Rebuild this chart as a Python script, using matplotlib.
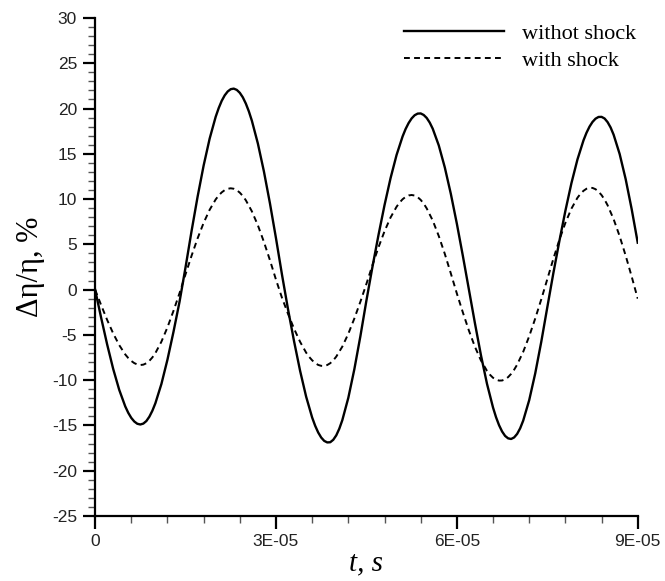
import matplotlib
matplotlib.use("Agg")
import matplotlib.pyplot as plt
from matplotlib.ticker import MultipleLocator, FixedLocator

plt.rcParams["axes.unicode_minus"] = False

# time in units of 1E-05 s
t = [i / 10 for i in range(91)]

without_shock = [
    0.00, -3.10, -6.06, -8.76, -11.07, -12.90, -14.17, -14.82, -14.80, -14.04,
    -12.55, -10.42, -7.74, -4.67, -1.36, 2.46, 6.47, 10.26, 13.70, 16.68,
    19.09, 20.85, 21.89, 22.20, 21.74, 20.55, 18.66, 16.13, 13.05, 9.53,
    5.68, 1.64, -2.18, -5.71, -8.97, -11.82, -14.13, -15.78, -16.71, -16.86,
    -16.10, -14.43, -11.95, -8.79, -5.15, -1.21, 2.51, 6.02, 9.32, 12.30,
    14.87, 16.92, 18.40, 19.26, 19.46, 18.96, 17.77, 15.93, 13.50, 10.58,
    7.28, 3.71, 0.00, -3.72, -7.26, -10.41, -13.03, -14.98, -16.16, -16.50,
    -15.94, -14.48, -12.21, -9.25, -5.77, -1.96, 1.80, 5.35, 8.70, 11.75,
    14.37, 16.48, 18.00, 18.88, 19.08, 18.50, 17.11, 14.98, 12.20, 8.87,
    5.18,
]

with_shock = [
    0.00, -1.71, -3.35, -4.84, -6.13, -7.16, -7.88, -8.27, -8.29, -7.87,
    -7.01, -5.75, -4.17, -2.35, -0.40, 1.69, 3.74, 5.66, 7.37, 8.82,
    9.96, 10.74, 11.14, 11.14, 10.71, 9.87, 8.65, 7.10, 5.27, 3.25,
    1.10, -0.91, -2.68, -4.32, -5.77, -6.96, -7.81, -8.32, -8.43, -8.13,
    -7.40, -6.30, -4.87, -3.19, -1.34, 0.63, 2.70, 4.67, 6.44, 7.96,
    9.15, 9.98, 10.40, 10.39, 9.91, 8.97, 7.63, 5.92, 3.95, 1.79,
    -0.43, -2.53, -4.53, -6.32, -7.83, -8.98, -9.74, -10.05, -9.91, -9.31,
    -8.29, -6.88, -5.15, -3.19, -1.08, 1.15, 3.39, 5.49, 7.37, 8.94,
    10.14, 10.91, 11.24, 11.09, 10.44, 9.32, 7.78, 5.90, 3.75, 1.43,
    -1.00,
]

# extra readings around the peaks and troughs
peak_t_without = [0.55, 0.65, 0.75, 0.85, 0.95,
                  2.05, 2.15, 2.25, 2.35, 2.45, 2.55,
                  3.65, 3.75, 3.85, 3.95, 4.05,
                  5.15, 5.25, 5.35, 5.45, 5.55,
                  6.65, 6.75, 6.85, 6.95, 7.05,
                  8.15, 8.25, 8.35, 8.45, 8.55]
peak_v_without = [-13.61, -14.57, -14.90, -14.52, -13.38,
                  20.05, 21.46, 22.14, 22.06, 21.24, 19.69,
                  -15.04, -16.34, -16.88, -16.59, -15.37,
                  17.74, 18.91, 19.44, 19.29, 18.45,
                  -14.10, -15.67, -16.43, -16.33, -15.32,
                  17.32, 18.52, 19.07, 18.90, 17.91]

peak_t_with = [0.55, 0.65, 0.75, 0.85, 0.95,
               2.05, 2.15, 2.25, 2.35, 2.45,
               3.55, 3.65, 3.75, 3.85, 3.95,
               5.05, 5.15, 5.25, 5.35, 5.45,
               6.55, 6.65, 6.75, 6.85, 6.95,
               8.05, 8.15, 8.25, 8.35, 8.45]
peak_v_with = [-7.56, -8.12, -8.33, -8.14, -7.49,
               10.40, 10.99, 11.19, 10.98, 10.34,
               -7.43, -8.11, -8.42, -8.33, -7.82,
               9.61, 10.24, 10.45, 10.21, 9.50,
               -9.41, -9.95, -10.04, -9.67, -8.85,
               10.58, 11.14, 11.23, 10.82, 9.94]

x_ticks = [0, 3, 6, 9]
x_tick_labels = ["0", "3E-05", "6E-05", "9E-05"]


def merge(ts, vs, extra_t, extra_v):
    pairs = sorted(zip(ts + extra_t, vs + extra_v))
    return [p[0] for p in pairs], [p[1] for p in pairs]


t1, v1 = merge(t, without_shock, peak_t_without, peak_v_without)
t2, v2 = merge(t, with_shock, peak_t_with, peak_v_with)

fig = plt.figure(figsize=(6.65, 5.81), dpi=100)
ax = fig.add_axes([0.143, 0.112, 0.816, 0.857])

ax.plot(t1, v1, color="black", lw=1.7, label="withot shock", solid_joinstyle="round")
ax.plot(t2, v2, color="black", lw=1.4, ls=(0, (3, 2.2)), label="with shock")

ax.set_xlim(0, 9)
ax.set_ylim(-25, 30)

for side in ["top", "right"]:
    ax.spines[side].set_visible(False)
for side in ["left", "bottom"]:
    ax.spines[side].set_linewidth(1.6)

ax.xaxis.set_major_locator(FixedLocator(x_ticks))
ax.set_xticklabels(x_tick_labels)
ax.xaxis.set_minor_locator(MultipleLocator(0.6))
ax.yaxis.set_major_locator(MultipleLocator(5))
ax.yaxis.set_minor_locator(MultipleLocator(1))

ax.tick_params(which="major", direction="out", length=9, width=1.6,
               labelsize=12.5, pad=4, colors="black", labelcolor="#222222")
ax.tick_params(which="minor", direction="out", length=5, width=1.0, color="#555555")
for lab in ax.get_xticklabels() + ax.get_yticklabels():
    lab.set_family("Liberation Sans")

ax.set_xlabel("t, s", fontsize=21, family="Liberation Serif", style="italic", labelpad=1)
ax.set_ylabel("Δη/η, %", fontsize=22, family="Liberation Serif", labelpad=5)

leg = ax.legend(loc="upper right", bbox_to_anchor=(1.034, 1.03), frameon=False,
                prop={"family": "Liberation Serif", "size": 16},
                handlelength=4.5, handletextpad=0.8, labelspacing=0.3)

fig.savefig("out.png", dpi=100)
